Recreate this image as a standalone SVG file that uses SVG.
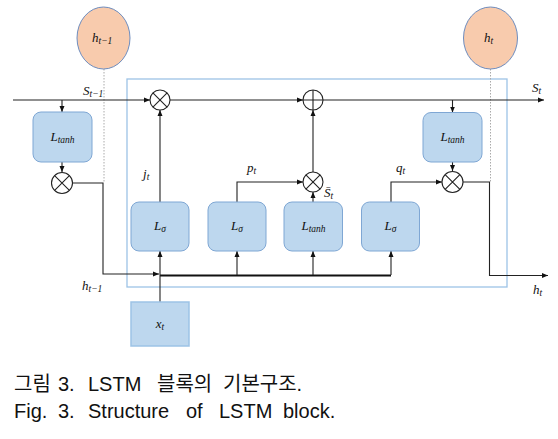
<svg xmlns="http://www.w3.org/2000/svg" width="558" height="439" viewBox="0 0 558 439">
<defs>
<marker id="arr" markerUnits="userSpaceOnUse" markerWidth="6" markerHeight="6" refX="6" refY="3" orient="auto">
<path d="M0,0.5 L6,3 L0,5.5 z" fill="#111"/>
</marker>
<style>
.ln{fill:none;stroke:#222;stroke-width:1.1}
.thk{fill:none;stroke:#111;stroke-width:2}
.dot{fill:none;stroke:#aaa;stroke-width:1;stroke-dasharray:1.5 1.5}
.box{fill:#BDD7EE;stroke:#7FA7D4;stroke-width:1}
.in{fill:#BDD7EE;stroke:#9DC3E6;stroke-width:1.5}
.st{fill:#F8CBAD;stroke:#6E8DBF;stroke-width:1}
.op{fill:#fff;stroke:#222;stroke-width:1.1}
.m{font-family:"Liberation Serif",serif;font-style:italic;font-size:13px;fill:#111}
.sub{font-size:9.5px}
.cap{font-family:"Liberation Sans","Noto Sans CJK KR",sans-serif;font-size:20px;fill:#111}
</style>
</defs>
<rect x="0" y="0" width="558" height="439" fill="#fff"/>
<rect id="cell" x="127" y="79" width="380" height="208" fill="none" stroke="#9DC3E6" stroke-width="1.3"/>
<g id="connectors">
<line class="dot" x1="104" y1="69" x2="104" y2="183"/>
<line class="dot" x1="490.5" y1="69" x2="490.5" y2="182"/>
<line class="ln" x1="13" y1="100" x2="150" y2="100" marker-end="url(#arr)"/>
<line class="ln" x1="170" y1="100" x2="303" y2="100" marker-end="url(#arr)"/>
<line class="ln" x1="323" y1="100" x2="544" y2="100" marker-end="url(#arr)"/>
<line class="ln" x1="62" y1="100" x2="62" y2="112" marker-end="url(#arr)"/>
<line class="ln" x1="62" y1="162" x2="62" y2="172" marker-end="url(#arr)"/>
<polyline class="ln" points="73,183 103,183 103,274 159,274" marker-end="url(#arr)"/>
<line class="thk" x1="160" y1="275.5" x2="391" y2="275.5"/>
<line class="ln" x1="160" y1="302" x2="160" y2="275"/>
<line class="ln" x1="160" y1="275" x2="160" y2="251" marker-end="url(#arr)"/>
<line class="ln" x1="237" y1="275" x2="237" y2="251" marker-end="url(#arr)"/>
<line class="ln" x1="313" y1="275" x2="313" y2="251" marker-end="url(#arr)"/>
<line class="ln" x1="391" y1="275" x2="391" y2="251" marker-end="url(#arr)"/>
<line class="ln" x1="160" y1="202" x2="160" y2="110" marker-end="url(#arr)"/>
<polyline class="ln" points="237,202 237,182 303,182" marker-end="url(#arr)"/>
<line class="ln" x1="313" y1="202" x2="313" y2="192" marker-end="url(#arr)"/>
<line class="ln" x1="313" y1="172" x2="313" y2="110" marker-end="url(#arr)"/>
<line class="ln" x1="452.5" y1="100" x2="452.5" y2="112.5" marker-end="url(#arr)"/>
<line class="ln" x1="452.5" y1="162" x2="452.5" y2="171" marker-end="url(#arr)"/>
<polyline class="ln" points="391,202 391,182 442,182" marker-end="url(#arr)"/>
<polyline class="ln" points="463,182 489.5,182 489.5,275.5 548,275.5" marker-end="url(#arr)"/>
</g>
<g id="h_prev_state"><ellipse class="st" cx="103.5" cy="38" rx="26.5" ry="31"/><text class="m" x="92" y="42">h<tspan class="sub" dy="2">t−1</tspan></text></g>
<g id="h_state"><ellipse class="st" cx="490.5" cy="38" rx="27" ry="31"/><text class="m" x="484" y="42">h<tspan class="sub" dy="2">t</tspan></text></g>
<g id="tanh_left"><rect class="box" x="33" y="112" width="59" height="50" rx="8"/><text class="m" x="62.5" y="141" text-anchor="middle">L<tspan class="sub" dy="2">tanh</tspan></text></g>
<g id="mul_left"><circle class="op" cx="62" cy="183" r="10.5"/><path class="ln" d="M54.6,175.6 L69.4,190.4 M69.4,175.6 L54.6,190.4"/></g>
<g id="mul_forget"><circle class="op" cx="160" cy="100" r="10"/><path class="ln" d="M152.9,92.9 L167.1,107.1 M167.1,92.9 L152.9,107.1"/></g>
<g id="add"><circle class="op" cx="313" cy="100" r="10"/><path class="ln" d="M313,90 L313,110 M303,100 L323,100"/></g>
<g id="mul_input"><circle class="op" cx="313" cy="182" r="10"/><path class="ln" d="M305.9,174.9 L320.1,189.1 M320.1,174.9 L305.9,189.1"/></g>
<g id="tanh_right"><rect class="box" x="423" y="112.5" width="59" height="49.5" rx="8"/><text class="m" x="452.5" y="141" text-anchor="middle">L<tspan class="sub" dy="2">tanh</tspan></text></g>
<g id="mul_output"><circle class="op" cx="452.5" cy="182" r="10.5"/><path class="ln" d="M445.1,174.6 L459.9,189.4 M459.9,174.6 L445.1,189.4"/></g>
<g id="sigma1"><rect class="box" x="131" y="202" width="58" height="49" rx="8"/><text class="m" x="160" y="230" text-anchor="middle">L<tspan class="sub" dy="2">σ</tspan></text></g>
<g id="sigma2"><rect class="box" x="208" y="202" width="58" height="49" rx="8"/><text class="m" x="237" y="230" text-anchor="middle">L<tspan class="sub" dy="2">σ</tspan></text></g>
<g id="tanh_mid"><rect class="box" x="284" y="202" width="58.5" height="49" rx="8"/><text class="m" x="313.5" y="230" text-anchor="middle">L<tspan class="sub" dy="2">tanh</tspan></text></g>
<g id="sigma3"><rect class="box" x="361.5" y="202" width="58" height="49" rx="8"/><text class="m" x="390.5" y="230" text-anchor="middle">L<tspan class="sub" dy="2">σ</tspan></text></g>
<g id="x_input"><rect class="in" x="131" y="302" width="58" height="44"/><text class="m" x="160" y="328" text-anchor="middle">x<tspan class="sub" dy="2">t</tspan></text></g>
<g id="labels">
<text class="m" x="83" y="95">S<tspan class="sub" dy="2">t−1</tspan></text>
<text class="m" x="532" y="92">S<tspan class="sub" dy="2">t</tspan></text>
<text class="m" x="82" y="290">h<tspan class="sub" dy="2">t−1</tspan></text>
<text class="m" x="533" y="294">h<tspan class="sub" dy="2">t</tspan></text>
<text class="m" x="143" y="178">j<tspan class="sub" dy="2">t</tspan></text>
<text class="m" x="247" y="172">p<tspan class="sub" dy="2">t</tspan></text>
<text class="m" x="396" y="172">q<tspan class="sub" dy="2">t</tspan></text>
<text class="m" x="324" y="197">S̄<tspan class="sub" dy="2">t</tspan></text>
</g>
<g id="caption">
<text class="cap" y="391"><tspan x="14">그림</tspan><tspan x="58">3.</tspan><tspan x="88">LSTM</tspan><tspan x="157">블록의</tspan><tspan x="223">기본구조.</tspan></text>
<text class="cap" y="418"><tspan x="14">Fig.</tspan><tspan x="58">3.</tspan><tspan x="88">Structure</tspan><tspan x="186">of</tspan><tspan x="219">LSTM</tspan><tspan x="283">block.</tspan></text>
</g>
</svg>
